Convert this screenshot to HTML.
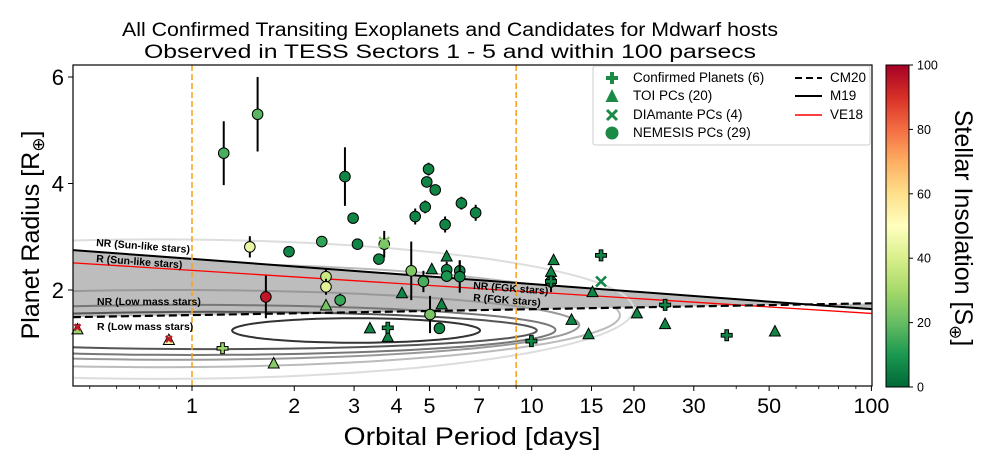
<!DOCTYPE html>
<html><head><meta charset="utf-8"><style>
body{margin:0;background:#fff;}
svg{display:block;font-family:"Liberation Sans","DejaVu Sans",sans-serif;}
</style></head><body>
<svg id="chart" width="990" height="465" viewBox="0 0 990 465">
<defs>
<linearGradient id="cbg" x1="0" y1="1" x2="0" y2="0">
<stop offset="0" stop-color="#006837"/><stop offset="0.1" stop-color="#1a9850"/><stop offset="0.2" stop-color="#66bd63"/><stop offset="0.3" stop-color="#a6d96a"/><stop offset="0.4" stop-color="#d9ef8b"/><stop offset="0.5" stop-color="#ffffbf"/><stop offset="0.6" stop-color="#fee08b"/><stop offset="0.7" stop-color="#fdae61"/><stop offset="0.8" stop-color="#f46d43"/><stop offset="0.9" stop-color="#d73027"/><stop offset="1" stop-color="#a50026"/>
</linearGradient>
<clipPath id="pc"><rect x="73" y="65" width="799" height="321"/></clipPath>
</defs>
<text x="450" y="36" text-anchor="middle" font-size="19" textLength="656" lengthAdjust="spacingAndGlyphs">All Confirmed Transiting Exoplanets and Candidates for Mdwarf hosts</text>
<text x="450" y="58" text-anchor="middle" font-size="19" textLength="612" lengthAdjust="spacingAndGlyphs">Observed in TESS Sectors 1 - 5 and within 100 parsecs</text>
<g id="plot" clip-path="url(#pc)"></g>
<g id="over"></g>
<rect x="73" y="65" width="799" height="321" fill="none" stroke="#000" stroke-width="1.2"/>
<g id="axes"></g>
<text x="472" y="445" text-anchor="middle" font-size="25" textLength="257" lengthAdjust="spacingAndGlyphs">Orbital Period [days]</text>
<text transform="translate(39,235) rotate(-90)" text-anchor="middle" font-size="25">Planet Radius [R<tspan font-size="17" dy="5">⊕</tspan><tspan dy="-5">]</tspan></text>
<g>
<rect x="593" y="66" width="277" height="79" fill="#fff" fill-opacity="0.85" stroke="#ccc" rx="2"/>
<g id="leg"></g>
<text x="633" y="82" font-size="13.5">Confirmed Planets (6)</text>
<text x="633" y="100" font-size="13.5">TOI PCs (20)</text>
<text x="633" y="119" font-size="13.5">DIAmante PCs (4)</text>
<text x="633" y="137" font-size="13.5">NEMESIS PCs (29)</text>
<line x1="795" y1="78" x2="822" y2="78" stroke="#000" stroke-width="2" stroke-dasharray="7,4"/>
<line x1="795" y1="96" x2="822" y2="96" stroke="#000" stroke-width="2"/>
<line x1="795" y1="115" x2="822" y2="115" stroke="#f00" stroke-width="1.5"/>
<text x="830" y="82" font-size="13.5">CM20</text>
<text x="830" y="100" font-size="13.5">M19</text>
<text x="830" y="119" font-size="13.5">VE18</text>
</g>
<rect x="886" y="65" width="23" height="322" fill="url(#cbg)" stroke="#000" stroke-width="1"/>
<g id="cb"></g>
<text transform="translate(955,228) rotate(90)" text-anchor="middle" font-size="25">Stellar Insolation [S<tspan font-size="17" dy="5">⊕</tspan><tspan dy="-5">]</tspan></text>
</svg>
<script>
// ---- data ----
const circP=[1.24,1.56,1.48,1.93,2.41,2.48,2.48,1.65,2.73,2.82,2.98,3.07,3.55,3.68,4.42,4.54,4.80,4.86,4.91,4.97,5.20,5.02,5.35,5.56,5.62,5.62,6.21,6.84,6.14,6.14,11.4];
const circR=[4.57,5.30,2.81,2.72,2.91,2.25,2.06,1.87,1.81,4.13,3.35,2.86,2.58,2.86,2.36,3.38,2.16,3.56,4.03,4.27,3.88,1.54,1.28,3.23,2.38,2.26,3.63,3.45,2.36,2.25,2.16];
const circErr=[0.6,0.7,0.2,0,0,0.15,0.15,0.4,0.12,0.55,0.1,0.1,0.1,0.25,0.55,0.15,0.2,0.12,0.1,0.12,0.1,0.35,0.1,0.15,0.15,0.1,0.12,0.15,0.2,0.3,0.2];
const circS=[16,18,45,6,13,37,42,95,14,6,6,6,6,22,24,6,16,6,6,6,6,23,6,6,6,10,6,6,6,6,6];
const triP=[5.62,5.08,4.15,5.43,2.48,3.34,3.77,1.74,0.855,0.46,11.6,11.4,15.1,13.1,14.7,20.4,24.7,52];
const triR=[2.63,2.39,1.94,1.73,1.71,1.28,1.12,0.62,1.06,1.26,2.56,2.34,1.96,1.44,1.17,1.56,1.36,1.22];
const triS=[6,6,6,6,22,6,6,25,45,28,6,6,6,6,6,6,6,6];
const plusP=[1.23,3.77,16.0,9.98,24.7,37.5,11.4];
const plusR=[0.905,1.29,2.65,1.04,1.72,1.15,2.16];
const plusS=[28,6,6,6,6,6,6];
const xP=[16.0,3.68,0.46,0.855];
const xR=[2.16,2.90,1.30,1.08];
const xS=[6,24,95,95];
const lineP=[0.446,100];
const m19R=[2.75,1.64];
const ve18R=[2.51,1.56];
const cm20R=[1.49,1.75];
const xTicks=[1,2,3,4,5,7,10,15,20,30,50,100];
const yTicks=[2,4,6];
const cbTicks=[0,20,40,60,80,100];
const vlines=[1,9.0];
// contour levels: [center logP, half-width logP, center R, half-height R]
const contC=[0.483,0.06,0.0,-0.05,-0.1,-0.1];
const contW=[0.365,0.955,1.07,1.19,1.36,1.4];
const contRc=[1.24,1.24,1.25,1.345,1.525,1.64];
const contRh=[0.23,0.35,0.47,0.655,0.975,1.31];
const contCol=['#333','#555','#777','#999','#bbb','#ddd'];

// ---- scales ----
const xs=p=>192+339.7*Math.log10(p);
const ys=r=>396.5-53.25*r;
const NS='http://www.w3.org/2000/svg';
const stops=['#006837','#1a9850','#66bd63','#a6d96a','#d9ef8b','#ffffbf','#fee08b','#fdae61','#f46d43','#d73027','#a50026'];
function hx(c){return [1,3,5].map(i=>parseInt(c.substr(i,2),16));}
function cmap(v){v=Math.max(0,Math.min(100,v))/10;const i=Math.min(9,Math.floor(v)),f=v-i;const a=hx(stops[i]),b=hx(stops[i+1]);return 'rgb('+a.map((x,k)=>Math.round(x+(b[k]-x)*f)).join(',')+')';}
function mk(tag,attrs,parent){const e=document.createElementNS(NS,tag);for(const k in attrs)e.setAttribute(k,attrs[k]);parent.appendChild(e);return e;}
const plot=document.getElementById('plot'),axes=document.getElementById('axes'),over=document.getElementById('over');

let x0=xs(lineP[0]),x1=xs(lineP[1]);
let band=mk('polygon',{points:[x0+','+ys(m19R[0]),x1+','+ys(m19R[1]),x1+','+ys(cm20R[1]),x0+','+ys(cm20R[0])].join(' '),fill:'#bdbdbd'},plot);



for(let i=contC.length-1;i>=0;i--){
  let pts=[];
  for(let t=0;t<=360;t+=3){const a=t*Math.PI/180;const lp=contC[i]+contW[i]*Math.cos(a);const r=contRc[i]+contRh[i]*Math.sin(a);pts.push(xs(Math.pow(10,lp)).toFixed(1)+','+ys(r).toFixed(1));}
  const c=mk('polygon',{points:pts.join(' '),fill:'none',stroke:contCol[i],'stroke-width':2},plot);
  
  
}
let l1=mk('line',{x1:x0,y1:ys(m19R[0]),x2:x1,y2:ys(m19R[1]),stroke:'#000','stroke-width':2},plot);


let l2=mk('line',{x1:x0,y1:ys(ve18R[0]),x2:x1,y2:ys(ve18R[1]),stroke:'#f00','stroke-width':1.3},plot);


let l3=mk('line',{x1:x0,y1:ys(cm20R[0]),x2:x1,y2:ys(cm20R[1]),stroke:'#000','stroke-width':2.2,'stroke-dasharray':'8,4'},plot);


vlines.forEach(v=>{const l=mk('line',{x1:xs(v),y1:65,x2:xs(v),y2:386,stroke:'#f5a623','stroke-width':1.6,'stroke-dasharray':'6,3'},plot);

});

const ann=[['NR  (Sun-like stars)',96,246,4.2],['R (Sun-like stars)',96,262,4.2],['NR (Low mass stars)',97,305,0],['R (Low mass stars)',97,330,0],['NR (FGK stars)',473,289,4.2],['R  (FGK stars)',473,301,4.2]];
ann.forEach(a=>{const t=mk('text',{x:a[1],y:a[2],'font-size':10.5,'font-weight':'bold',transform:'rotate('+a[3]+' '+a[1]+' '+a[2]+')'},over);t.textContent=a[0];

});

function plusPath(cx,cy,s){const a=s/3,b=s;return `M${cx-a},${cy-b}H${cx+a}V${cy-a}H${cx+b}V${cy+a}H${cx+a}V${cy+b}H${cx-a}V${cy+a}H${cx-b}V${cy-a}H${cx-a}Z`;}
circP.forEach((p,i)=>{const x=xs(p),y=ys(circR[i]);
 if(circErr[i]>0){const e=mk('line',{x1:x,y1:ys(circR[i]+circErr[i]),x2:x,y2:ys(circR[i]-circErr[i]),stroke:'#000','stroke-width':2},over);
 
 }
 const c=mk('circle',{cx:x,cy:y,r:5.3,fill:cmap(circS[i]),stroke:'#000','stroke-width':1},over);
 
 });
triP.forEach((p,i)=>{const x=xs(p),y=ys(triR[i]);
 const t=mk('polygon',{points:`${x},${y-6} ${x+5.5},${y+4.5} ${x-5.5},${y+4.5}`,fill:cmap(triS[i]),stroke:'#000','stroke-width':1},over);
 
 });
plusP.forEach((p,i)=>{const x=xs(p),y=ys(plusR[i]);
 const t=mk('path',{d:plusPath(x,y,5.5),fill:cmap(plusS[i]),stroke:'#000','stroke-width':1},over);
 
 });
xP.forEach((p,i)=>{const x=xs(p),y=ys(xR[i]),s=i<2?5:3;
 const t=mk('path',{d:`M${x-s},${y-s}L${x+s},${y+s}M${x-s},${y+s}L${x+s},${y-s}`,stroke:cmap(xS[i]),'stroke-width':2.5},over);
 
 });

xTicks.forEach(v=>{const x=xs(v);mk('line',{x1:x,y1:386,x2:x,y2:391,stroke:'#000','stroke-width':1},axes);
 const t=mk('text',{x:x,y:413,'text-anchor':'middle','font-size':21.5},axes);t.textContent=v;
 
 });
[0.5,0.6,0.7,0.8,0.9,6,8,9,40,60,70,80,90].forEach(v=>{const x=xs(v);mk('line',{x1:x,y1:386,x2:x,y2:389,stroke:'#000','stroke-width':0.8},axes);});
yTicks.forEach(v=>{const y=ys(v);mk('line',{x1:68,y1:y,x2:73,y2:y,stroke:'#000','stroke-width':1},axes);
 const t=mk('text',{x:64,y:y+8,'text-anchor':'end','font-size':22},axes);t.textContent=v;
 
 });
const cb=document.getElementById('cb');
cbTicks.forEach(v=>{const y=387-v/100*322;mk('line',{x1:909,y1:y,x2:913,y2:y,stroke:'#000','stroke-width':1},cb);
 const t=mk('text',{x:917,y:y+4.5,'font-size':12.5},cb);t.textContent=v;
 
 });
const leg=document.getElementById('leg');
mk('path',{d:plusPath(612,78,6),fill:'#1a8a45'},leg);
mk('polygon',{points:'612,89 618.5,102 605.5,102',fill:'#1a8a45'},leg);
mk('path',{d:'M607,110L617,120M607,120L617,110',stroke:'#1a8a45','stroke-width':3},leg);
mk('circle',{cx:612,cy:133,r:6.5,fill:'#1a8a45'},leg);
</script>
</body></html>
